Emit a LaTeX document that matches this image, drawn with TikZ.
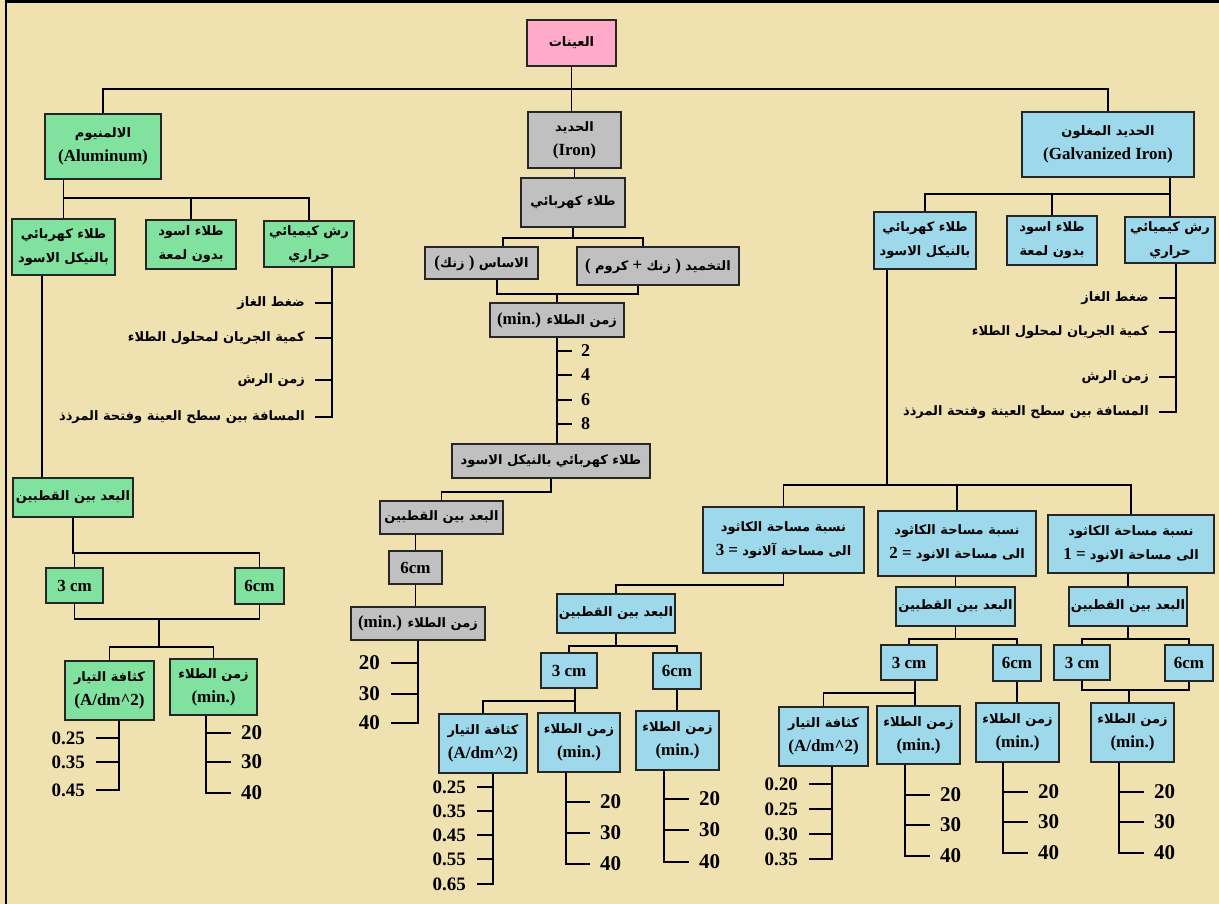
\documentclass[tikz,border=0pt]{standalone}
\usepackage{fontspec}
\usepackage{tikz}
\setmainfont{Liberation Serif}
\newfontfamily\arfont[Script=Arabic]{DejaVu Sans}
\TeXXeTstate=1

\definecolor{paper}{RGB}{240,226,176}
\definecolor{rootpink}{RGB}{255,170,200}
\definecolor{alugreen}{RGB}{128,226,158}
\definecolor{irongray}{RGB}{192,192,192}
\definecolor{galvblue}{RGB}{157,217,234}

\newcommand{\lat}{\fontsize{17}{24}\selectfont\bfseries}
\newcommand{\AR}[1]{{\arfont\bfseries\fontsize{13}{24}\selectfont\beginR #1\endR}}
\newcommand{\bignum}{\fontsize{21}{21}\selectfont\bfseries}
\newcommand{\midnum}{\fontsize{19}{19}\selectfont\bfseries}

\tikzset{
  box/.style={draw=black!85, line width=1.3pt, inner sep=0pt, align=center, font=\lat},
  sz/.style 2 args={minimum width=#1pt, minimum height=#2pt},
  rootbox/.style={box, fill=rootpink},
  alubox/.style={box, fill=alugreen},
  ironbox/.style={box, fill=irongray},
  galvbox/.style={box, fill=galvblue},
  conn/.style={line width=1.2pt},
  txtl/.style={anchor=east, inner xsep=10pt, inner ysep=0pt, font=\lat},
  numl/.style={anchor=east, inner xsep=11pt, inner ysep=0pt, font=\midnum},
  numr/.style={anchor=west, inner xsep=10pt, inner ysep=0pt, font=\bignum}
}

\begin{document}
\begin{tikzpicture}[x=1pt, y=-1pt]
\useasboundingbox (0,0) rectangle (1219,904);
\fill [paper] (0,0) rectangle (1219,904);
\draw [line width=2.2pt] (6,904) -- (6,1.5) -- (1219,1.5);

\node [rootbox, sz={89}{46}] (root) at (571.5,43) {\AR{العينات}};
\node [alubox, sz={116}{65}] (alu) at (103,146.5) {\AR{الالمنيوم}\\(Aluminum)};
\node [ironbox, sz={93}{56}] (iron) at (574.5,140) {\AR{الحديد}\\(Iron)};
\node [galvbox, sz={172}{65}] (galv) at (1108,144.5) {\AR{الحديد المغلون}\\(Galvanized Iron)};
\coordinate (topbus) at (0,89);
\draw [conn] (root.south) -- (root.south |- iron.north);
\draw [conn] (alu.north) |- (galv.north |- topbus) -- (galv.north);

\node [alubox, sz={103}{56}] (alnick) at (63.5,247) {\AR{طلاء كهربائي}\\\AR{بالنيكل الاسود}};
\node [alubox, sz={90}{49}] (alblack) at (191,244.5) {\AR{طلاء اسود}\\\AR{بدون لمعة}};
\node [alubox, sz={90}{46}] (alspray) at (309,244) {\AR{رش كيميائي}\\\AR{حراري}};
\coordinate (albus) at (0,198);
\draw [conn] (alnick.north |- alu.south) -- (alnick.north);
\draw [conn] (alnick.north |- albus) -| (alspray.north);
\draw [conn] (alblack.north) -- (alblack.north |- albus);

\node [txtl] (alg1) at (315,303) {\AR{ضغط الغاز}};
\node [txtl] (alg2) at (315,338) {\AR{كمية الجريان لمحلول الطلاء}};
\node [txtl] (alg3) at (315,380) {\AR{زمن الرش}};
\node [txtl] (alg4) at (315,417) {\AR{المسافة بين سطح العينة وفتحة المرذذ}};
\coordinate (alstem) at (332,0);
\draw [conn] (alspray.south -| alstem) |- (alg4.east);
\draw [conn] (alg1.east) -- (alg1.east -| alstem);
\draw [conn] (alg2.east) -- (alg2.east -| alstem);
\draw [conn] (alg3.east) -- (alg3.east -| alstem);

\node [alubox, sz={120}{39}] (aldist) at (73,497.5) {\AR{البعد بين القطبين}};
\coordinate (alnstem) at (42,0);
\draw [conn] (alnick.south -| alnstem) -- (aldist.north -| alnstem);
\node [alubox, sz={57}{35}] (althree) at (74.5,585.5) {3 cm};
\node [alubox, sz={49}{36}] (alsix) at (259.5,586) {6cm};
\coordinate (aldbus) at (0,553);
\draw [conn] (aldist.south) |- (alsix.north |- aldbus) -- (alsix.north);
\draw [conn] (althree.north) -- (althree.north |- aldbus);

\node [alubox, sz={89}{59}] (aldens) at (109.5,690.5) {\AR{كثافة التيار}\\(A/dm\^{}2)};
\node [alubox, sz={87}{56}] (altime) at (213.5,687) {\AR{زمن الطلاء}\\(min.)};
\coordinate (aljoin) at (159,619);
\coordinate (alsplit) at (0,647);
\draw [conn] (althree.south) |- (alsix.south |- aljoin) -- (alsix.south);
\draw [conn] (aljoin) -- (aljoin |- alsplit);
\draw [conn] (aldens.north) |- (altime.north |- alsplit) -- (altime.north);

\node [numl] (ald1) at (96,738) {0.25};
\node [numl] (ald2) at (96,762) {0.35};
\node [numl] (ald3) at (96,790) {0.45};
\coordinate (aldstem) at (119,0);
\draw [conn] (aldens.south -| aldstem) |- (ald3.east);
\draw [conn] (ald1.east) -- (ald1.east -| aldstem);
\draw [conn] (ald2.east) -- (ald2.east -| aldstem);
\node [numr] (alt1) at (231,733) {20};
\node [numr] (alt2) at (231,762) {30};
\node [numr] (alt3) at (231,793) {40};
\coordinate (altstem) at (206,0);
\draw [conn] (altime.south -| altstem) |- (alt3.west);
\draw [conn] (alt1.west) -- (alt1.west -| altstem);
\draw [conn] (alt2.west) -- (alt2.west -| altstem);

\node [ironbox, sz={104}{49}] (fecoat) at (573,202.5) {\AR{طلاء كهربائي}};
\draw [conn] (iron.south) -- (iron.south |- fecoat.north);
\node [ironbox, sz={113}{32}] (febase) at (481.5,263) {(\AR{زنك} ) \AR{الاساس}};
\node [ironbox, sz={162}{38}] (fepass) at (658,266) {( \AR{كروم} + \AR{زنك} ) \AR{التخميد}};
\coordinate (fesl) at (503,238);
\coordinate (fesr) at (643,238);
\draw [conn] (fecoat.south) -- (fecoat.south |- fesl);
\draw [conn] (febase.north -| fesl) |- (fesr) -- (fepass.north -| fesr);

\node [ironbox, sz={134}{34}] (fetime) at (557,320) {(min.) \AR{زمن الطلاء}};
\coordinate (fejl) at (497,294);
\coordinate (fejr) at (638,294);
\draw [conn] (febase.south -| fejl) |- (fejr) -- (fepass.south -| fejr);
\draw [conn] (fetime.north) -- (fetime.north |- fejl);

\node [ironbox, sz={198}{34}] (fenick) at (551,461) {\AR{طلاء كهربائي بالنيكل الاسود}};
\draw [conn] (fetime.south) -- (fetime.south |- fenick.north);
\node [numr, inner xsep=9pt, font=\fontsize{18}{18}\selectfont\bfseries] (fe2) at (572,351) {2};
\node [numr, inner xsep=9pt, font=\fontsize{18}{18}\selectfont\bfseries] (fe4) at (572,375) {4};
\node [numr, inner xsep=9pt, font=\fontsize{18}{18}\selectfont\bfseries] (fe6) at (572,400) {6};
\node [numr, inner xsep=9pt, font=\fontsize{18}{18}\selectfont\bfseries] (fe8) at (572,424) {8};
\draw [conn] (fetime.south |- fe2.west) -- (fe2.west);
\draw [conn] (fetime.south |- fe4.west) -- (fe4.west);
\draw [conn] (fetime.south |- fe6.west) -- (fe6.west);
\draw [conn] (fetime.south |- fe8.west) -- (fe8.west);

\node [ironbox, sz={123}{33}] (fedist) at (441.5,517.5) {\AR{البعد بين القطبين}};
\coordinate (fenbus) at (0,492);
\draw [conn] (fenick.south) |- (fedist.north |- fenbus) -- (fedist.north);
\node [ironbox, sz={53}{33}] (fesix) at (415.5,567.5) {6cm};
\draw [conn] (fesix.north |- fedist.south) -- (fesix.north);
\node [ironbox, sz={134}{33}] (fetimeb) at (418,623.5) {(min.) \AR{زمن الطلاء}};
\draw [conn] (fesix.south) -- (fesix.south |- fetimeb.north);
\node [numl, font=\bignum] (fb1) at (391,663) {20};
\node [numl, font=\bignum] (fb2) at (391,694) {30};
\node [numl, font=\bignum] (fb3) at (391,723) {40};
\draw [conn] (fetimeb.south) |- (fb3.east);
\draw [conn] (fb1.east) -- (fb1.east -| fetimeb.south);
\draw [conn] (fb2.east) -- (fb2.east -| fetimeb.south);

\node [galvbox, sz={102}{57}] (ganick) at (925,240.5) {\AR{طلاء كهربائي}\\\AR{بالنيكل الاسود}};
\node [galvbox, sz={90}{49}] (gablack) at (1052,240.5) {\AR{طلاء اسود}\\\AR{بدون لمعة}};
\node [galvbox, sz={90}{46}] (gaspray) at (1170,240) {\AR{رش كيميائي}\\\AR{حراري}};
\coordinate (gabus) at (0,194);
\draw [conn] (gaspray.north |- galv.south) -- (gaspray.north);
\draw [conn] (ganick.north) |- (gaspray.north |- gabus);
\draw [conn] (gablack.north) -- (gablack.north |- gabus);

\node [txtl] (gag1) at (1159,298) {\AR{ضغط الغاز}};
\node [txtl] (gag2) at (1159,332) {\AR{كمية الجريان لمحلول الطلاء}};
\node [txtl] (gag3) at (1159,377) {\AR{زمن الرش}};
\node [txtl] (gag4) at (1159,412) {\AR{المسافة بين سطح العينة وفتحة المرذذ}};
\coordinate (gastem) at (1176,0);
\draw [conn] (gaspray.south -| gastem) |- (gag4.east);
\draw [conn] (gag1.east) -- (gag1.east -| gastem);
\draw [conn] (gag2.east) -- (gag2.east -| gastem);
\draw [conn] (gag3.east) -- (gag3.east -| gastem);

\node [galvbox, sz={161}{66}] (ratiothree) at (783.5,540) {\AR{نسبة مساحة الكاثود}\\3 = \AR{الى مساحة آلانود}};
\node [galvbox, sz={158}{65}] (ratiotwo) at (957,543.5) {\AR{نسبة مساحة الكاثود}\\2 = \AR{الى مساحة الانود}};
\node [galvbox, sz={166}{58}] (ratioone) at (1131,544) {\AR{نسبة مساحة الكاثود}\\1 = \AR{الى مساحة الانود}};
\coordinate (ganstem) at (887,0);
\coordinate (rbus) at (0,485);
\draw [conn] (ganick.south -| ganstem) -- (ganstem |- rbus);
\draw [conn] (ratiothree.north) |- (ratioone.north |- rbus) -- (ratioone.north);
\draw [conn] (ratiotwo.north) -- (ratiotwo.north |- rbus);

\node [galvbox, sz={118}{39}] (rthdist) at (616,613.5) {\AR{البعد بين القطبين}};
\coordinate (rthbus) at (0,585);
\draw [conn] (ratiothree.south) |- (rthdist.north |- rthbus) -- (rthdist.north);
\node [galvbox, sz={56}{35}] (rththree) at (569,670.5) {3 cm};
\node [galvbox, sz={48}{36}] (rthsix) at (677,671) {6cm};
\coordinate (rthsplit) at (0,646);
\draw [conn] (rthdist.south) -- (rthdist.south |- rthsplit);
\draw [conn] (rththree.north) |- (rthsix.north |- rthsplit) -- (rthsix.north);
\node [galvbox, sz={88}{59}] (rthdens) at (483,743.5) {\AR{كثافة التيار}\\(A/dm\^{}2)};
\node [galvbox, sz={82}{59}] (rthtime) at (579,742.5) {\AR{زمن الطلاء}\\(min.)};
\node [galvbox, sz={83}{59}] (rthtimeb) at (677.5,740.5) {\AR{زمن الطلاء}\\(min.)};
\coordinate (rthstem) at (575,701);
\draw [conn] (rththree.south -| rthstem) -- (rthtime.north -| rthstem);
\draw [conn] (rthstem) -| (rthdens.north);
\draw [conn] (rthsix.south) -- (rthsix.south |- rthtimeb.north);

\node [numl] (rthd1) at (477,787) {0.25};
\node [numl] (rthd2) at (477,811) {0.35};
\node [numl] (rthd3) at (477,835) {0.45};
\node [numl] (rthd4) at (477,859) {0.55};
\node [numl] (rthd5) at (477,884) {0.65};
\coordinate (rthdstem) at (493,0);
\draw [conn] (rthdens.south -| rthdstem) |- (rthd5.east);
\draw [conn] (rthd1.east) -- (rthd1.east -| rthdstem);
\draw [conn] (rthd2.east) -- (rthd2.east -| rthdstem);
\draw [conn] (rthd3.east) -- (rthd3.east -| rthdstem);
\draw [conn] (rthd4.east) -- (rthd4.east -| rthdstem);
\node [numr] (rtht1) at (590,802) {20};
\node [numr] (rtht2) at (590,833) {30};
\node [numr] (rtht3) at (590,864) {40};
\coordinate (rthtstem) at (566,0);
\draw [conn] (rthtime.south -| rthtstem) |- (rtht3.west);
\draw [conn] (rtht1.west) -- (rtht1.west -| rthtstem);
\draw [conn] (rtht2.west) -- (rtht2.west -| rthtstem);
\node [numr] (rthu1) at (689,799) {20};
\node [numr] (rthu2) at (689,830) {30};
\node [numr] (rthu3) at (689,862) {40};
\coordinate (rthustem) at (664,0);
\draw [conn] (rthtimeb.south -| rthustem) |- (rthu3.west);
\draw [conn] (rthu1.west) -- (rthu1.west -| rthustem);
\draw [conn] (rthu2.west) -- (rthu2.west -| rthustem);

\node [galvbox, sz={119}{39}] (rtwdist) at (955.5,606.5) {\AR{البعد بين القطبين}};
\draw [conn] (ratiotwo.south -| rtwdist.north) -- (rtwdist.north);
\node [galvbox, sz={56}{35}] (rtwthree) at (909,662.5) {3 cm};
\node [galvbox, sz={48}{36}] (rtwsix) at (1017,663) {6cm};
\coordinate (rsplit) at (0,639);
\draw [conn] (rtwdist.south) -- (rtwdist.south |- rsplit);
\draw [conn] (rtwthree.north) |- (rtwsix.north |- rsplit) -- (rtwsix.north);
\node [galvbox, sz={89}{59}] (rtwdens) at (823.5,736.5) {\AR{كثافة التيار}\\(A/dm\^{}2)};
\node [galvbox, sz={83}{58}] (rtwtime) at (918.5,735) {\AR{زمن الطلاء}\\(min.)};
\node [galvbox, sz={83}{59}] (rtwtimeb) at (1017.5,732.5) {\AR{زمن الطلاء}\\(min.)};
\coordinate (rtwstem) at (915,693);
\draw [conn] (rtwthree.south -| rtwstem) -- (rtwtime.north -| rtwstem);
\draw [conn] (rtwstem) -| (rtwdens.north);
\draw [conn] (rtwsix.south) -- (rtwsix.south |- rtwtimeb.north);

\node [numl] (rtwd1) at (809,784) {0.20};
\node [numl] (rtwd2) at (809,809) {0.25};
\node [numl] (rtwd3) at (809,834) {0.30};
\node [numl] (rtwd4) at (809,859) {0.35};
\coordinate (rtwdstem) at (832,0);
\draw [conn] (rtwdens.south -| rtwdstem) |- (rtwd4.east);
\draw [conn] (rtwd1.east) -- (rtwd1.east -| rtwdstem);
\draw [conn] (rtwd2.east) -- (rtwd2.east -| rtwdstem);
\draw [conn] (rtwd3.east) -- (rtwd3.east -| rtwdstem);
\node [numr] (rtwt1) at (930,795) {20};
\node [numr] (rtwt2) at (930,825) {30};
\node [numr] (rtwt3) at (930,856) {40};
\coordinate (rtwtstem) at (905,0);
\draw [conn] (rtwtime.south -| rtwtstem) |- (rtwt3.west);
\draw [conn] (rtwt1.west) -- (rtwt1.west -| rtwtstem);
\draw [conn] (rtwt2.west) -- (rtwt2.west -| rtwtstem);
\node [numr] (rtwu1) at (1028,792) {20};
\node [numr] (rtwu2) at (1028,822) {30};
\node [numr] (rtwu3) at (1028,853) {40};
\coordinate (rtwustem) at (1003,0);
\draw [conn] (rtwtimeb.south -| rtwustem) |- (rtwu3.west);
\draw [conn] (rtwu1.west) -- (rtwu1.west -| rtwustem);
\draw [conn] (rtwu2.west) -- (rtwu2.west -| rtwustem);

\node [galvbox, sz={118}{39}] (ronedist) at (1128,606.5) {\AR{البعد بين القطبين}};
\draw [conn] (ratioone.south -| ronedist.north) -- (ronedist.north);
\node [galvbox, sz={56}{35}] (ronethree) at (1082,662.5) {3 cm};
\node [galvbox, sz={48}{36}] (ronesix) at (1189,663) {6cm};
\draw [conn] (ronedist.south) -- (ronedist.south |- rsplit);
\draw [conn] (ronethree.north) |- (ronesix.north |- rsplit) -- (ronesix.north);
\node [galvbox, sz={83}{59}] (ronetime) at (1132.5,732.5) {\AR{زمن الطلاء}\\(min.)};
\coordinate (ronejoin) at (1129,690);
\draw [conn] (ronethree.south) |- (ronesix.south |- ronejoin) -- (ronesix.south);
\draw [conn] (ronejoin) -- (ronejoin |- ronetime.north);

\node [numr] (ronet1) at (1144,792) {20};
\node [numr] (ronet2) at (1144,822) {30};
\node [numr] (ronet3) at (1144,853) {40};
\coordinate (ronetstem) at (1119,0);
\draw [conn] (ronetime.south -| ronetstem) |- (ronet3.west);
\draw [conn] (ronet1.west) -- (ronet1.west -| ronetstem);
\draw [conn] (ronet2.west) -- (ronet2.west -| ronetstem);
\end{tikzpicture}
\end{document}
